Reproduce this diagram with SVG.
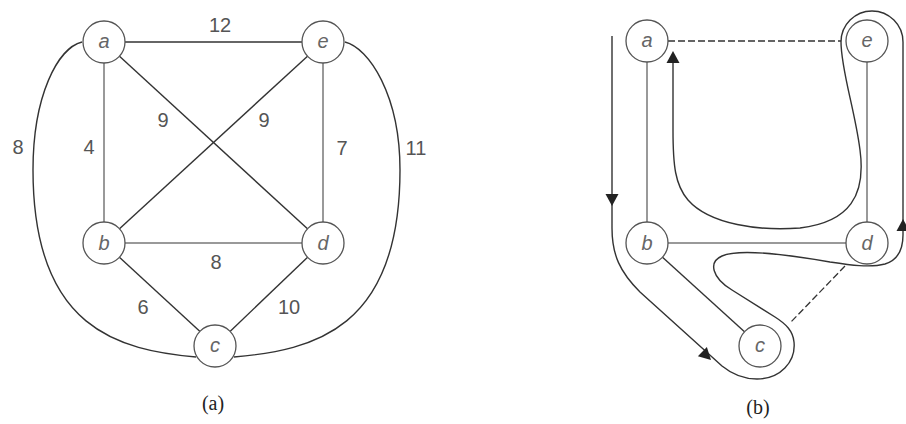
<svg xmlns="http://www.w3.org/2000/svg" width="906" height="424" viewBox="0 0 906 424">
<style>
.node circle{fill:#fff;stroke:#555;stroke-width:1.3}
.node text{font-family:"Liberation Sans",Arial,sans-serif;font-style:italic;font-size:20px;fill:#666;text-anchor:middle}
.dark{stroke:#333;stroke-width:1.4;fill:none}
.gray{stroke:#999;stroke-width:2;fill:none}
.dash{stroke:#333;stroke-width:1.3;fill:none;stroke-dasharray:7 3}
.lbl{font-family:"Liberation Sans",Arial,sans-serif;font-size:20px;fill:#555;text-anchor:middle}
.cap{font-family:"Liberation Serif","Times New Roman",serif;font-size:20px;fill:#222;text-anchor:middle}
.ah{fill:#222}
</style>
<defs>
<path id="ah" d="M0,0 L-12,-6.5 L-12,6.5 Z"/>
</defs>
<rect width="906" height="424" fill="#fff"/>
<g id="connectors">
<!-- part (a) -->
<path class="dark" d="M125,42 L302,42"/>
<path class="gray" d="M104,63 L104,222"/>
<path class="gray" d="M323,63 L323,222"/>
<path class="gray" d="M125,243 L302,243"/>
<path class="dark" d="M119.5,56.2 L307.5,228.8"/>
<path class="dark" d="M307.5,56.2 L119.5,228.8"/>
<path class="dark" d="M119.4,257.3 L200,331.5"/>
<path class="dark" d="M230,331.5 L307.6,257.3"/>
<path class="dark" d="M82,42 C58,48 33,95 33,170 C33,330 120,350 196,357"/>
<path class="dark" d="M345,42 C369,48 400,95 400,170 C400,330 313,350 234,357"/>
<!-- part (b) -->
<path class="gray" d="M647,62 L647,222"/>
<path class="gray" d="M867,62 L867,222"/>
<path class="gray" d="M668,243 L846,243"/>
<path class="dark" d="M662.5,257.2 L744.5,331.8"/>
<path class="dash" d="M668,41 L841,41"/>
<path class="dash" d="M845,266 L790,323"/>
<path class="dark" d="M612,36 L612,228 C612,255 620,272 640,292 L722,366 C733,375 745,379 757,379 C780,379 796,362 794,342 C793,331 786,324 775,317 L732,290 C712,278 708,262 722,256 C740,248 790,255 830,262 C850,265 870,268 885,264 C898,260 903,250 903,235 L903,42 A31,31 0 0 0 841,42 C841,70 855,110 860,150 C866,195 850,222 800,228 C760,231 710,225 688,200 C675,185 673,165 673,130 L673,58"/>
<use href="#ah" class="ah" transform="translate(612,206) rotate(90)"/>
<use href="#ah" class="ah" transform="translate(711,360) rotate(44)"/>
<use href="#ah" class="ah" transform="translate(673,51) rotate(-90)"/>
<use href="#ah" class="ah" transform="translate(903,219) rotate(-90)"/>
</g>
<g id="labels">
<text class="lbl" x="220" y="32">12</text>
<text class="lbl" x="163" y="127">9</text>
<text class="lbl" x="264" y="127">9</text>
<text class="lbl" x="18" y="154">8</text>
<text class="lbl" x="89" y="154">4</text>
<text class="lbl" x="342" y="155">7</text>
<text class="lbl" x="416" y="155">11</text>
<text class="lbl" x="216" y="269">8</text>
<text class="lbl" x="143" y="314">6</text>
<text class="lbl" x="289" y="314">10</text>
<text class="cap" x="213" y="410">(a)</text>
<text class="cap" x="758" y="414">(b)</text>
</g>
<g id="a1" class="node"><circle cx="104" cy="42" r="21"/><text x="104" y="48">a</text></g>
<g id="e1" class="node"><circle cx="323" cy="42" r="21"/><text x="323" y="48">e</text></g>
<g id="b1" class="node"><circle cx="104" cy="243" r="21"/><text x="104" y="250">b</text></g>
<g id="d1" class="node"><circle cx="323" cy="243" r="21"/><text x="323" y="250">d</text></g>
<g id="c1" class="node"><circle cx="215" cy="346" r="21"/><text x="215" y="352">c</text></g>
<g id="a2" class="node"><circle cx="647" cy="41" r="21"/><text x="647" y="47">a</text></g>
<g id="e2" class="node"><circle cx="867" cy="41" r="21"/><text x="867" y="47">e</text></g>
<g id="b2" class="node"><circle cx="647" cy="243" r="21"/><text x="647" y="250">b</text></g>
<g id="d2" class="node"><circle cx="867" cy="243" r="21"/><text x="867" y="250">d</text></g>
<g id="c2" class="node"><circle cx="760" cy="346" r="21"/><text x="760" y="352">c</text></g>
</svg>
